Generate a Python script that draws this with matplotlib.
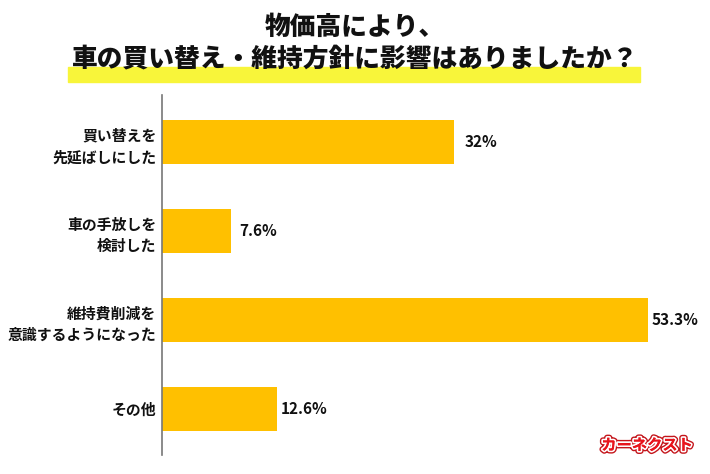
import matplotlib.pyplot as plt
import matplotlib.patheffects as pe

plt.rcParams['font.family'] = ['Noto Sans CJK JP', 'DejaVu Sans']

categories = ['買い替えを\n先延ばしにした', '車の手放しを\n検討した', '維持費削減を\n意識するようになった', 'その他']
values = [32, 7.6, 53.3, 12.6]
value_labels = ['32%', '7.6%', '53.3%', '12.6%']
title_lines = ['物価高により、', '車の買い替え・維持方針に影響はありましたか？']
logo_text = 'カーネクスト'

bar_color = '#FFC000'
highlight_color = '#F8F53A'

fig = plt.figure(figsize=(7.1, 4.74), dpi=100)
W, H = 710, 474

# title highlight band under the second line
fig.patches.append(plt.Rectangle((68 / W, 1 - 82 / H), (640 - 68) / W, 15 / H,
                                 transform=fig.transFigure, color=highlight_color, zorder=0))
fig.text(0.5, 1 - 27 / H, title_lines[0], ha='center', va='center',
         fontsize=18.5, fontweight='black', color='#111111')
fig.text(0.5, 1 - 58 / H, title_lines[1], ha='center', va='center',
         fontsize=18.5, fontweight='black', color='#111111', zorder=2)

ax = fig.add_axes([162 / W, 1 - 455 / H, (709 - 162) / W, (455 - 95) / H])
pos = list(range(len(categories)))
ax.barh(pos, values, height=0.5, color=bar_color)
ax.set_xlim(0, 60)
ax.set_ylim(3.52, -0.53)

for p, v, lab in zip(pos, values, value_labels):
    ax.annotate(lab, (v, p), xytext=(19.5, 0), textcoords='offset points',
                ha='center', va='center', fontsize=11, fontweight='bold', color='#111111')

ax.set_yticks(pos)
ax.set_yticklabels(categories, fontsize=10.7, fontweight='bold', color='#111111',
                   linespacing=1.45, ha='right')
ax.tick_params(axis='y', length=0, pad=4)
ax.set_xticks([])
for s in ['top', 'right', 'bottom']:
    ax.spines[s].set_visible(False)
ax.spines['left'].set_color('#777777')
ax.spines['left'].set_linewidth(1.2)

# logo
fig.text(647 / W, 1 - 445 / H, logo_text, ha='center', va='center', fontsize=11,
         fontweight='bold', style='italic', color='#E8141C',
         path_effects=[pe.withStroke(linewidth=3, foreground='white'),
                       pe.withStroke(linewidth=4.5, foreground='#C4161C'),
                       pe.withStroke(linewidth=2.5, foreground='white'),
                       pe.Normal()])

fig.savefig('out.png', dpi=100)
